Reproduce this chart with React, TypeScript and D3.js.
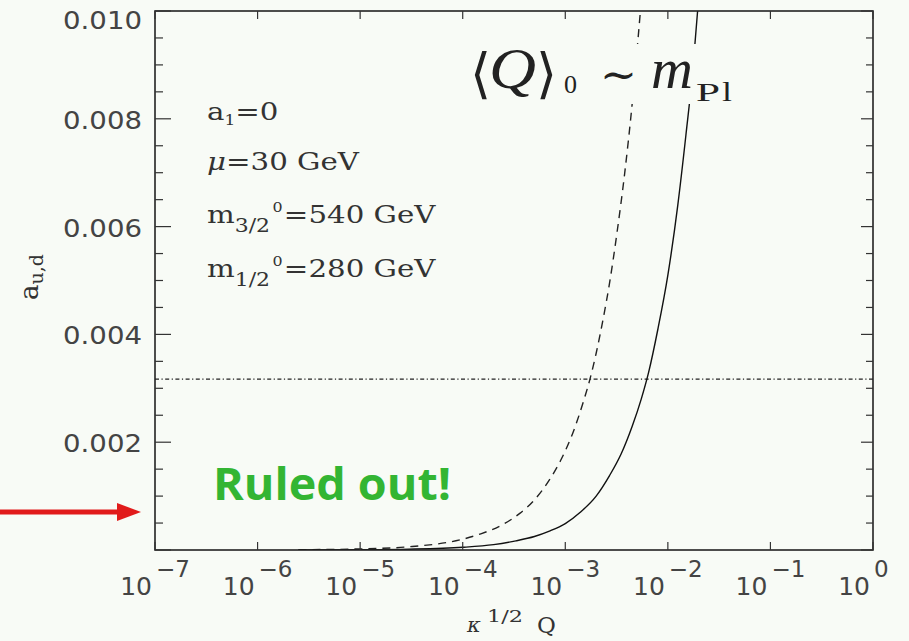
import React from "react";
import * as d3 from "d3";

// ---- data ----
const xTickExponents = [-7, -6, -5, -4, -3, -2, -1, 0];
const yTickValues = [0.002, 0.004, 0.006, 0.008, 0.01];
const yTickLabels = ["0.002", "0.004", "0.006", "0.008", "0.010"];

// solid curve (κ^{1/2} Q , a_{u,d})
const solidX = [2.5e-6, 1e-5, 3e-5, 1e-4, 2e-4, 3.3e-4, 5e-4, 7e-4, 1e-3, 1.4e-3, 2e-3, 2.7e-3, 3.5e-3, 4.5e-3, 5.5e-3, 6.5e-3, 8e-3, 1e-2, 1.25e-2, 1.5e-2, 1.75e-2, 1.95e-2];
const solidY = [0.0000013, 0.000005, 0.000015, 0.00005, 0.0001, 0.00017, 0.00025, 0.00035, 0.00049, 0.0007, 0.001, 0.00138, 0.00178, 0.0023, 0.0028, 0.0033, 0.0041, 0.0051, 0.0064, 0.0077, 0.0089, 0.01];

// dashed curve
const dashedX = [2.5e-6, 1e-5, 3e-5, 1e-4, 1.5e-4, 2.5e-4, 3.6e-4, 5e-4, 7e-4, 9e-4, 1.2e-3, 1.5e-3, 1.74e-3, 2e-3, 2.33e-3, 2.7e-3, 3.2e-3, 3.8e-3, 4.5e-3, 5.4e-3];
const dashedY = [0.000005, 0.00002, 0.00006, 0.0002, 0.0003, 0.00048, 0.00068, 0.00093, 0.0013, 0.00166, 0.0022, 0.00275, 0.00317, 0.00365, 0.00427, 0.00495, 0.0059, 0.007, 0.0083, 0.01];

// horizontal bound
const boundY = 0.00317;

const paramLines = [
  { base: "a", sub: "1", sup: "", rest: "=0" },
  { base: "μ", sub: "", sup: "", rest: "=30 GeV" },
  { base: "m", sub: "3/2", sup: "0", rest: "=540 GeV" },
  { base: "m", sub: "1/2", sup: "0", rest: "=280 GeV" },
];

const W = 909;
const H = 641;
const L = 155, R = 873, T = 11, B = 550;
const BG = "#f8fbf6";

export default function App() {
  const x = d3.scaleLog().domain([1e-7, 1]).range([L, R]);
  const y = d3.scaleLinear().domain([0, 0.01]).range([B, T]);
  const minorY = d3.range(0, 0.01001, 0.0005);

  const line = d3
    .line<[number, number]>()
    .x((d) => x(d[0]))
    .y((d) => y(d[1]))
    .curve(d3.curveMonotoneX);

  const solidPath = line(solidX.map((v, i) => [v, solidY[i]]) as [number, number][]) || "";
  const dashedPath = line(dashedX.map((v, i) => [v, dashedY[i]]) as [number, number][]) || "";

  const tickFont = "DejaVu Sans, sans-serif";
  const serif = "DejaVu Serif, serif";
  const lib = "Liberation Serif, serif";

  return (
    <div style={{ position: "fixed", left: 0, top: 0, width: W, height: H }}>
      <svg width={W} height={H} style={{ display: "block" }}>
        <rect x={0} y={0} width={W} height={H} fill={BG} />
        <defs>
          <clipPath id="plotclip">
            <rect x={L} y={T} width={R - L} height={B - T} />
          </clipPath>
        </defs>

        {/* horizontal bound line */}
        <line
          x1={L}
          x2={R}
          y1={y(boundY)}
          y2={y(boundY)}
          stroke="#222"
          strokeWidth={1.2}
          strokeDasharray="4,2.5,1.2,2.5"
        />

        {/* curves */}
        <g clipPath="url(#plotclip)">
          <path d={dashedPath} fill="none" stroke="#222" strokeWidth={1.4} strokeDasharray="8,6" />
          <path d={solidPath} fill="none" stroke="#111" strokeWidth={1.4} />
        </g>

        {/* patch behind annotation */}
        <rect x={465} y={44} width={300} height={60} fill={BG} />
        <g fill="#222" fontFamily={lib}>
          <text x={470} y={92} fontSize={54}>⟨</text>
          <text x={489} y={88} fontSize={56} fontStyle="italic" textLength={47} lengthAdjust="spacingAndGlyphs">Q</text>
          <text x={536} y={92} fontSize={54}>⟩</text>
          <text x={564} y={93} fontSize={26}>0</text>
          <text x={600} y={89} fontFamily={serif} fontSize={42} textLength={37} lengthAdjust="spacingAndGlyphs">∼</text>
          <text x={651} y={88} fontSize={58} fontStyle="italic">m</text>
          <text x={696} y={101} fontSize={26} textLength={24} lengthAdjust="spacingAndGlyphs">P</text>
          <text x={722} y={101} fontSize={27} textLength={10} lengthAdjust="spacingAndGlyphs">l</text>
        </g>

        {/* frame */}
        <rect x={L} y={T} width={R - L} height={B - T} fill="none" stroke="#222" strokeWidth={1.6} />

        {/* y ticks left & right */}
        {minorY.map((v, i) => {
          const major = i % 4 === 0;
          return (
            <g key={"yt" + i} stroke="#333" strokeWidth={1.2}>
              <line x1={L} x2={L + (major ? 16 : 8)} y1={y(v)} y2={y(v)} />
              <line x1={R} x2={R - (major ? 12 : 7)} y1={y(v)} y2={y(v)} />
            </g>
          );
        })}

        {/* x ticks bottom & top */}
        {xTickExponents.map((e) => {
          const px = x(Math.pow(10, e));
          return (
            <g key={"xt" + e} stroke="#333" strokeWidth={1.2}>
              <line x1={px} x2={px} y1={B} y2={B - 8} />
              <line x1={px} x2={px} y1={T} y2={T + 8} />
            </g>
          );
        })}

        {/* y tick labels */}
        {yTickValues.map((v, i) => (
          <text
            key={"yl" + i}
            x={142}
            y={Math.max(y(v) + 3, 22)}
            textAnchor="end"
            dominantBaseline="middle"
            fontFamily={tickFont}
            fontSize={25}
            fill="#444"
            textLength={79}
            lengthAdjust="spacingAndGlyphs"
          >
            {yTickLabels[i]}
          </text>
        ))}

        {/* x tick labels */}
        {xTickExponents.map((e) => {
          const px = x(Math.pow(10, e));
          return (
            <g key={"xl" + e} fill="#444" fontFamily={tickFont}>
              <text x={px - 3} y={595} textAnchor="end" fontSize={25}>10</text>
              <text x={px + 1} y={577} textAnchor="start" fontSize={23}>
                {e < 0 ? "−" + Math.abs(e) : String(e)}
              </text>
            </g>
          );
        })}

        {/* axis titles */}
        <g fill="#333" fontFamily={serif}>
          <text x={467} y={632} fontSize={21} fontStyle="italic">κ</text>
          <text x={487} y={622} fontSize={17} textLength={36} lengthAdjust="spacingAndGlyphs">1/2</text>
          <text x={537} y={633} fontSize={23}>Q</text>
        </g>
        <g transform="translate(38,300) rotate(-90)" fill="#333" fontFamily={serif}>
          <text x={0} y={0}>
            <tspan fontSize={26}>a</tspan>
            <tspan fontSize={19} dy={5}>u,d</tspan>
          </text>
        </g>

        {/* parameter block */}
        {paramLines.map((p, i) => {
          const base = [120, 170, 223, 277][i];
          return (
            <g key={"pl" + i} transform={`translate(207,${base}) scale(1.22,1)`} fill="#333" fontFamily={serif}>
              <text x={0} y={0} fontSize={24}>
                <tspan fontStyle={p.base === "μ" ? "italic" : "normal"}>{p.base}</tspan>
                {p.sub ? <tspan fontSize={p.sup ? 18 : 14} dy={p.sup ? 9 : 5}>{p.sub}</tspan> : null}
                {p.sup ? <tspan fontSize={13} dx={2} dy={-20}>{p.sup}</tspan> : null}
                <tspan dx={p.sup ? 1 : 0} dy={p.sup ? 11 : p.sub ? -5 : 0}>{p.rest}</tspan>
              </text>
            </g>
          );
        })}

        {/* Ruled out */}
        <text
          x={213}
          y={500}
          fontFamily="Open Sans, sans-serif"
          fontWeight={700}
          fontSize={44}
          fill="#33b533"
          textLength={238}
          lengthAdjust="spacingAndGlyphs"
        >
          Ruled out!
        </text>

        {/* red arrow */}
        <line x1={0} x2={122} y1={512} y2={512} stroke="#e11b1b" strokeWidth={5} />
        <polygon points="117,503 141,512 117,521" fill="#e11b1b" />
      </svg>
    </div>
  );
}
